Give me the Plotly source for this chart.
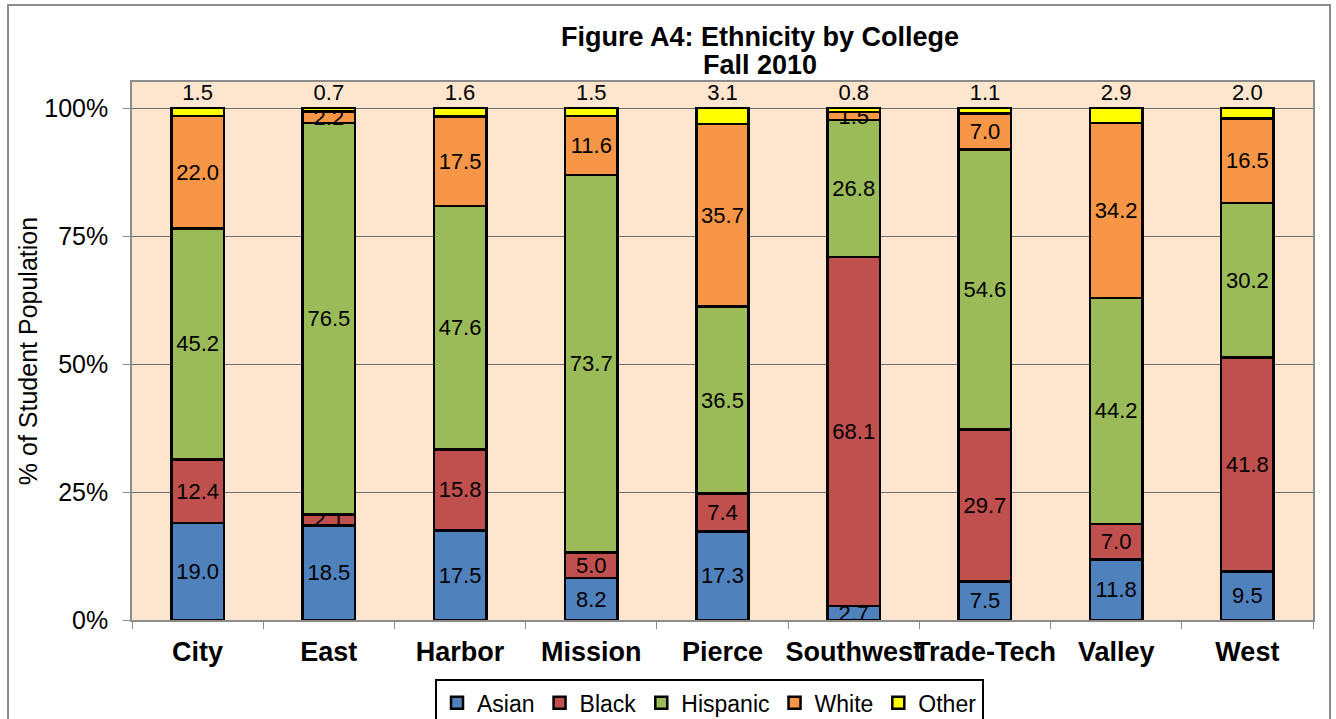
import plotly.graph_objects as go

colleges = ["City", "East", "Harbor", "Mission", "Pierce", "Southwest", "Trade-Tech", "Valley", "West"]

asian = [19.0, 18.5, 17.5, 8.2, 17.3, 2.7, 7.5, 11.8, 9.5]
black = [12.4, 2.1, 15.8, 5.0, 7.4, 68.1, 29.7, 7.0, 41.8]
hispanic = [45.2, 76.5, 47.6, 73.7, 36.5, 26.8, 54.6, 44.2, 30.2]
white = [22.0, 2.2, 17.5, 11.6, 35.7, 1.5, 7.0, 34.2, 16.5]
other = [1.5, 0.7, 1.6, 1.5, 3.1, 0.8, 1.1, 2.9, 2.0]

y_ticks = [0, 25, 50, 75, 100]
y_tick_text = ["0%", "25%", "50%", "75%", "100%"]

series = [
    ("Asian", asian, "#4F81BD"),
    ("Black", black, "#C0504D"),
    ("Hispanic", hispanic, "#9BBB59"),
    ("White", white, "#F79646"),
    ("Other", other, "#FFFF00"),
]

FONT = "Liberation Sans, Arial, sans-serif"

fig = go.Figure()
for name, vals, col in series:
    fig.add_trace(go.Bar(
        x=colleges, y=vals, name=name,
        marker=dict(color=col, line=dict(color="black", width=2.5)),
        text=vals, texttemplate="%{text:.1f}",
        textposition="outside" if name == "Other" else "inside",
        insidetextanchor="middle",
        constraintext="none", textangle=0, cliponaxis=False,
        textfont=dict(family=FONT, size=22, color="black"),
    ))

fig.update_layout(
    width=1336, height=719,
    barmode="stack", barnorm="percent", bargap=0.6,
    paper_bgcolor="white", plot_bgcolor="#FEE6CE",
    margin=dict(l=132, r=23, t=82, b=99, autoexpand=False),
    font=dict(family=FONT, color="black"),
    legend=dict(
        orientation="h", x=0.489, xanchor="center", y=-0.11, yanchor="top",
        font=dict(family=FONT, size=23, color="black"),
        bordercolor="black", borderwidth=2, bgcolor="white",
        traceorder="normal", itemwidth=30,
    ),
    annotations=[
        dict(text="<b>Figure A4: Ethnicity by College</b>", xref="paper", yref="paper",
             x=0.532, y=1.0836, xanchor="center", yanchor="middle", showarrow=False,
             font=dict(family=FONT, size=27, color="black")),
        dict(text="<b>Fall 2010</b>", xref="paper", yref="paper",
             x=0.532, y=1.0316, xanchor="center", yanchor="middle", showarrow=False,
             font=dict(family=FONT, size=27, color="black")),
    ],
    shapes=[dict(
        type="rect", xref="paper", yref="paper",
        x0=-0.105, x1=1.0144, y0=-0.25, y1=1.143,
        line=dict(color="#8C8C8C", width=2), fillcolor="rgba(0,0,0,0)", layer="below",
    )],
)

fig.update_xaxes(
    showline=True, mirror=True, linecolor="#8C8C8C", linewidth=2,
    ticks="outside", tickson="boundaries", ticklen=7, tickcolor="#8C8C8C",
    tickangle=0, tickfont=dict(family=FONT, size=27, color="black", weight="bold"),
    ticklabelstandoff=7,
)
fig.update_yaxes(
    range=[0, 105.1], tickvals=y_ticks, ticktext=y_tick_text,
    showline=True, mirror=True, linecolor="#8C8C8C", linewidth=1.5,
    ticks="outside", ticklen=7, tickcolor="#8C8C8C",
    showgrid=True, gridcolor="#6E6E6E", gridwidth=1, zeroline=False,
    tickfont=dict(family=FONT, size=25, color="black"),
    ticklabelstandoff=10,
    title=dict(text="% of Student Population", font=dict(family=FONT, size=25, color="black"), standoff=0),
)

# page body has a default 8px margin; drop it so the figure sits at the top-left
fig.write_html("out.html", config={"displayModeBar": False},
               post_script="document.body.style.margin='0';")
